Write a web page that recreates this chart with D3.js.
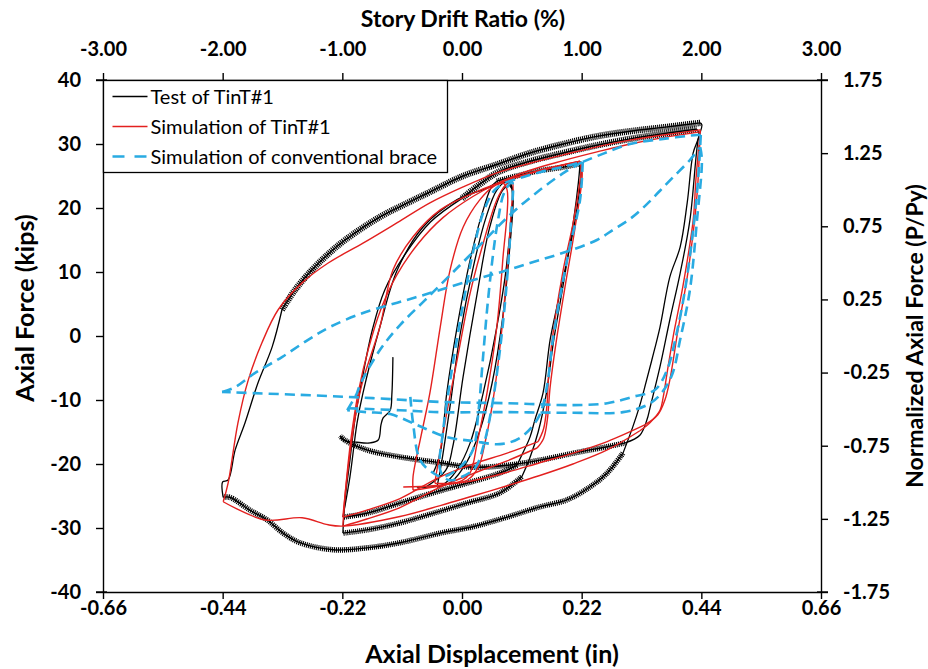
<!DOCTYPE html>
<html>
<head>
<meta charset="utf-8">
<script src="https://cdn.jsdelivr.net/npm/d3@7"></script>
<style>
  body { margin: 0; background: #fff; }
  text { font-family: Lato, "Open Sans", sans-serif; }
</style>
</head>
<body>
<div class="grafico"></div>
<script>
var width = 928, height = 669;
var plot = { left: 103, right: 821, top: 80, bottom: 592 };

// tick values
const dispTicks = [-0.66, -0.44, -0.22, 0, 0.22, 0.44, 0.66];
const driftTicks = [-3, -2, -1, 0, 1, 2, 3];
const forceTicks = [-40, -30, -20, -10, 0, 10, 20, 30, 40];
const normTicks = [-1.75, -1.25, -0.75, -0.25, 0.25, 0.75, 1.25, 1.75];

// ---- Test of TinT#1 (black), [displacement in, force kips] ----
// small cycles
const testSmall1 = [[-0.053,-21.4],[-0.040,-18.3],[-0.028,-8.9],[-0.009,1.4],[0.015,11.9],[0.039,19.7],[0.057,23.6],[0.072,24.0],[0.088,23.9],[0.083,11.9],[0.064,1.4],[0.039,-8.9],[0.015,-16.7],[-0.009,-20.9],[-0.035,-23.2],[-0.083,-23.6]];
const testSmall2 = [[-0.070,-23.8],[-0.030,-21.0],[-0.017,-17.3],[0.002,-6.4],[0.028,6.7],[0.051,17.0],[0.075,22.8],[0.090,23.6],[0.094,22.0],[0.088,14.0],[0.075,3.0],[0.055,-7.5],[0.032,-15.0],[0.010,-19.5],[-0.020,-22.8],[-0.046,-23.6]];
const testSmall3 = [[-0.046,-23.6],[-0.038,-20.0],[-0.022,-11.0],[-0.004,0.0],[0.020,10.5],[0.044,18.5],[0.064,22.8],[0.080,24.0],[0.092,23.0]];
// 0.22 in cycles
const test022Top = [[0.064,24.2],[0.100,25.0],[0.140,25.8],[0.180,26.3],[0.217,26.9]];
const test022Down1 = [[0.217,26.9],[0.219,25.9],[0.208,18.1],[0.180,6.7],[0.162,-0.6],[0.149,-8.9],[0.134,-13.1],[0.125,-15.8],[0.110,-18.6],[0.101,-20.2]];
const test022Comp1 = [[0.101,-20.2],[0.070,-21.4],[0.009,-23.0],[-0.053,-24.5],[-0.114,-26.1],[-0.175,-27.7],[-0.219,-28.3]];
const test022Up = [[-0.219,-28.3],[-0.206,-22.0],[-0.193,-13.6],[-0.182,-8.9],[-0.151,1.4],[-0.119,10.3],[-0.072,17.0],[-0.009,21.3],[0.051,23.3],[0.064,24.2]];
const test022Down2 = [[0.217,26.9],[0.214,24.0],[0.205,18.0],[0.186,8.0],[0.168,-1.0],[0.155,-9.0],[0.140,-15.0],[0.125,-19.0],[0.110,-22.0]];
const test022Comp2 = [[0.110,-22.0],[0.070,-24.5],[0.009,-26.1],[-0.053,-27.7],[-0.114,-29.2],[-0.175,-30.3],[-0.219,-30.8]];
// 0.44 in cycles
const test044Up1 = [[-0.219,-30.8],[-0.215,-25.6],[-0.206,-19.4],[-0.197,-13.1],[-0.184,-6.9],[-0.165,0.9],[-0.142,7.2],[-0.105,12.7],[-0.058,17.8],[0.0,21.5]];
const test044Top1 = [[0.0,21.5],[0.064,25.5],[0.125,27.3],[0.186,28.6],[0.248,29.8],[0.309,30.8],[0.370,31.6],[0.432,32.3]];
const test044Down1 = [[0.432,32.3],[0.436,31.5],[0.425,28.6],[0.414,20.8],[0.401,13.9],[0.382,9.2],[0.364,1.4],[0.349,-3.75],[0.336,-8.0],[0.327,-10.8],[0.314,-14.2],[0.296,-18.3]];
const test044Comp1 = [[0.296,-18.3],[0.267,-21.4],[0.235,-23.6],[0.193,-25.6],[0.143,-26.7],[0.083,-28.3],[0.020,-29.8],[-0.040,-30.8],[-0.114,-32.3],[-0.175,-33.1],[-0.237,-33.4],[-0.298,-32.3],[-0.329,-30.8],[-0.358,-28.75],[-0.390,-27.2],[-0.427,-25.2],[-0.439,-25.2]];
const test044Up2 = [[-0.439,-25.2],[-0.440,-22.8],[-0.430,-22.5],[-0.417,-17.8],[-0.399,-13.6],[-0.375,-7.3],[-0.349,-1.7],[-0.331,4.1]];
const test044Top2 = [[-0.331,4.1],[-0.307,7.2],[-0.276,10.3],[-0.246,12.8],[-0.215,15.0],[-0.151,18.6],[-0.100,20.8],[-0.059,22.5],[0.002,25.0],[0.064,26.8],[0.125,28.6],[0.186,30.0],[0.248,31.2],[0.309,32.0],[0.370,32.6],[0.438,33.3]];
const test044Down2 = [[0.438,33.3],[0.441,33.0],[0.434,30.6],[0.419,18.1],[0.401,9.8],[0.382,2.5],[0.364,-4.8],[0.346,-11.1],[0.340,-13.1],[0.327,-15.5],[0.300,-16.7]];
const testFinalComp = [[0.300,-16.7],[0.267,-17.3],[0.217,-18.1],[0.143,-19.4],[0.083,-20.2],[0.020,-20.5],[-0.040,-19.8],[-0.114,-18.9],[-0.175,-17.8],[-0.215,-16.3],[-0.224,-15.6]];
const testEnd = [[-0.224,-15.6],[-0.219,-16.25],[-0.193,-16.6],[-0.169,-16.7],[-0.154,-16.25],[-0.149,-13.9],[-0.145,-12.8],[-0.132,-11.6],[-0.129,-9.2],[-0.127,-3.3]];

// ---- Simulation of TinT#1 (red) ----
const simSmall1 = [[-0.090,-24.1],[-0.090,-22.0],[-0.075,-15.5],[-0.059,-8.9],[-0.040,1.4],[-0.022,10.3],[0.002,17.0],[0.033,21.3],[0.057,23.3],[0.075,23.9],[0.083,22.8],[0.075,11.9],[0.064,1.4],[0.046,-8.9],[0.028,-16.7],[0.015,-21.4],[0.0,-22.6],[-0.040,-23.4],[-0.090,-24.1]];
const simSmall2 = [[-0.050,-23.0],[-0.046,-20.9],[-0.028,-12.0],[-0.009,-3.75],[0.015,6.7],[0.039,14.5],[0.064,21.25],[0.080,23.6],[0.092,24.2],[0.090,19.0],[0.082,9.5],[0.072,0.0],[0.058,-9.5],[0.042,-16.8],[0.030,-20.5],[0.010,-22.5],[-0.020,-23.0],[-0.050,-23.0]];
const sim022Top = [[0.064,23.6],[0.100,24.8],[0.143,25.8],[0.217,27.3]];
const sim022Down1 = [[0.217,27.3],[0.219,26.0],[0.205,18.0],[0.186,10.3],[0.170,2.0],[0.160,-5.0],[0.156,-11.0],[0.150,-14.5],[0.140,-16.5]];
const sim022Comp1 = [[0.140,-16.5],[0.083,-18.3],[0.020,-20.0],[-0.040,-22.0],[-0.114,-25.4],[-0.175,-27.2],[-0.219,-28.3]];
const sim022Up = [[-0.219,-28.3],[-0.212,-22.5],[-0.195,-12.0],[-0.182,-6.9],[-0.151,1.4],[-0.127,10.3],[-0.090,15.5],[-0.040,19.7],[0.020,22.3],[0.064,23.8],[0.143,25.9],[0.217,27.3]];
const sim022Down2 = [[0.217,27.3],[0.221,25.5],[0.208,17.0],[0.190,8.0],[0.173,-1.0],[0.162,-8.0],[0.157,-13.0],[0.150,-16.0],[0.138,-17.5]];
const sim022Comp2 = [[0.138,-17.5],[0.083,-19.5],[0.020,-21.5],[-0.040,-23.6],[-0.114,-26.8],[-0.175,-28.6],[-0.219,-29.7]];
const sim044Up1 = [[-0.219,-29.7],[-0.214,-24.0],[-0.204,-16.0],[-0.190,-8.5],[-0.172,-2.0],[-0.150,4.0],[-0.120,9.5],[-0.080,14.5],[-0.035,18.5],[0.020,21.8],[0.064,23.8],[0.125,25.9],[0.186,27.4],[0.250,28.8],[0.309,30.0],[0.370,31.0],[0.438,31.9]];
const sim044Down1 = [[0.438,31.9],[0.430,24.4],[0.425,18.1],[0.406,7.7],[0.388,-0.2],[0.377,-5.8],[0.370,-9.5],[0.364,-11.6],[0.346,-13.5],[0.327,-14.8]];
const sim044Comp1 = [[0.327,-14.8],[0.267,-17.8],[0.204,-20.0],[0.143,-21.8],[0.083,-23.4],[0.020,-25.0],[-0.040,-26.5],[-0.114,-28.2],[-0.219,-29.7],[-0.246,-29.5],[-0.294,-28.4],[-0.362,-28.75],[-0.439,-25.9]];
const sim044Up2 = [[-0.439,-25.9],[-0.430,-23.0],[-0.412,-13.6],[-0.393,-6.9],[-0.368,-1.1],[-0.338,4.1],[-0.294,8.3],[-0.246,11.4],[-0.182,14.5],[-0.119,17.7],[-0.059,20.8],[0.002,23.3],[0.064,25.5],[0.125,27.0],[0.186,28.3],[0.250,29.6],[0.309,30.6],[0.370,31.4],[0.438,32.2]];
const sim044Down2 = [[0.438,32.2],[0.432,22.0],[0.416,10.3],[0.397,0.9],[0.382,-6.9],[0.373,-10.0],[0.360,-12.3],[0.336,-13.9]];
const simFinalComp = [[0.336,-13.9],[0.267,-16.5],[0.204,-18.3],[0.143,-19.8],[0.083,-21.3],[0.009,-22.8],[-0.053,-23.4],[-0.108,-23.6]];

// ---- Simulation of conventional brace (blue dashed) ----
const convSmall = [[-0.095,-9.5],[-0.090,-13.6],[-0.077,-19.4],[-0.053,-21.4],[-0.035,-22.0],[-0.004,-20.5],[0.020,-17.8],[0.030,-12.0],[0.038,-4.0],[0.046,4.0],[0.056,12.0],[0.066,18.0],[0.078,22.5],[0.092,24.0],[0.090,18.0],[0.082,8.0],[0.070,-2.0],[0.055,-11.0],[0.040,-17.0],[0.025,-20.5],[0.0,-22.0],[-0.025,-22.5],[-0.040,-21.0],[-0.035,-15.0],[-0.020,-6.0],[0.0,4.0],[0.020,13.0],[0.040,19.5],[0.060,22.8],[0.080,24.0]];
const conv022Top = [[0.080,24.0],[0.143,25.6],[0.189,26.5],[0.222,27.2]];
const conv022Down = [[0.222,27.2],[0.217,21.25],[0.199,14.2],[0.186,8.75],[0.167,-0.6],[0.158,-6.9],[0.149,-10.8],[0.138,-13.1],[0.107,-15.9],[0.070,-16.9],[0.020,-16.4],[-0.028,-15.8],[-0.083,-13.9],[-0.132,-12.2],[-0.175,-11.9],[-0.211,-11.6]];
const conv022Up = [[-0.211,-11.6],[-0.193,-8.9],[-0.188,-7.7],[-0.151,-2.2],[-0.114,1.7],[-0.068,5.6],[-0.022,9.5],[0.033,14.2],[0.088,18.9],[0.143,22.8],[0.189,25.6],[0.222,27.2]];
const conv044Top = [[0.222,27.2],[0.260,28.5],[0.309,30.0],[0.370,30.8],[0.432,31.4],[0.439,31.4]];
const conv044Down1 = [[0.439,31.4],[0.434,24.4],[0.425,16.6],[0.410,7.2],[0.392,-0.6],[0.377,-5.3],[0.355,-8.4],[0.314,-9.5],[0.267,-10.5],[0.204,-10.8],[0.083,-10.5],[-0.040,-10.3],[-0.164,-9.7],[-0.298,-9.2],[-0.441,-8.75]];
const conv044Up = [[-0.441,-8.75],[-0.417,-8.0],[-0.381,-5.8],[-0.331,-3.3],[-0.283,-0.6],[-0.243,1.4],[-0.182,3.6],[-0.119,5.2],[-0.059,6.7],[0.002,8.3],[0.064,9.8],[0.125,11.4],[0.186,13.0],[0.248,15.0],[0.278,16.6],[0.309,18.3],[0.340,20.6],[0.364,22.7],[0.388,24.8],[0.419,27.5],[0.438,29.5]];
const conv044Down2 = [[0.438,29.5],[0.441,27.5],[0.432,18.1],[0.419,7.2],[0.401,-0.6],[0.386,-6.1],[0.364,-9.2],[0.340,-10.8],[0.296,-11.9],[0.204,-12.0],[0.083,-11.9],[-0.040,-11.9],[-0.114,-11.6],[-0.219,-11.25]];

// grouping: jagged branches of the test record vs smooth ones
const testSmooth = [testSmall1, testSmall2, testSmall3, test022Down1, test022Up, test022Down2, test044Up1, test044Down1, test044Up2, test044Down2, testEnd];
const testJagged = [test022Top, test022Comp1, test022Comp2, test044Top1, test044Comp1, test044Top2, testFinalComp];
const simBranches = [simSmall1, simSmall2, sim022Top, sim022Down1, sim022Comp1, sim022Up, sim022Down2, sim022Comp2, sim044Up1, sim044Down1, sim044Comp1, sim044Up2, sim044Down2, simFinalComp];
const convBranches = [convSmall, conv022Top, conv022Down, conv022Up, conv044Top, conv044Down1, conv044Up, conv044Down2];

const legendItems = ["Test of TinT#1", "Simulation of TinT#1", "Simulation of conventional brace"];
const colBlack = "#000", colRed = "#e3201f", colBlue = "#29abe2";

let svg = d3.select(".grafico")
  .append("svg")
  .attr("width", width)
  .attr("height", height);

const x = d3.scaleLinear().domain([-0.66, 0.66]).range([plot.left, plot.right]);
const drift = d3.scaleLinear().domain([-3, 3]).range([plot.left, plot.right]);
const y = d3.scaleLinear().domain([-40, 40]).range([plot.bottom, plot.top]);
const yNorm = d3.scaleLinear().domain([-1.75, 1.75]).range([plot.bottom, plot.top]);

const line = d3.line()
  .x(d => x(d[0]))
  .y(d => y(d[1]))
  .curve(d3.curveCatmullRom.alpha(0.5));

// curves
let curves = svg.append("g").attr("fill", "none").attr("stroke-linejoin", "round");

// the test record is noisy: draw its jagged parts as a hatched band
curves.selectAll(".jagbg")
  .data(testJagged)
  .enter().append("path")
  .attr("d", line)
  .attr("stroke", colBlack)
  .attr("stroke-width", (d, i) => (i === 3 || i === 5) ? 6.5 : 5.5)
  .attr("stroke-dasharray", "1.1,0.9");

curves.selectAll(".jag")
  .data(testJagged)
  .enter().append("path")
  .attr("d", line)
  .attr("stroke", colBlack)
  .attr("stroke-width", 1.4);

curves.selectAll(".test")
  .data(testSmooth)
  .enter().append("path")
  .attr("d", line)
  .attr("stroke", colBlack)
  .attr("stroke-width", 1.3);

curves.selectAll(".sim")
  .data(simBranches)
  .enter().append("path")
  .attr("d", line)
  .attr("stroke", colRed)
  .attr("stroke-width", 1.4);

curves.selectAll(".conv")
  .data(convBranches)
  .enter().append("path")
  .attr("d", line)
  .attr("stroke", colBlue)
  .attr("stroke-width", 2.6)
  .attr("stroke-dasharray", "10,6");

// axes
function styleAxis(g) {
  g.attr("font-family", "Lato, sans-serif").attr("font-size", 20).attr("font-weight", "bold");
  g.select(".domain").attr("stroke-width", 1.4);
  g.selectAll(".tick line").attr("stroke-width", 1.4);
  g.selectAll("text").attr("fill", "#000");
}
const fmt2 = d => d.toFixed(2);

svg.append("g")
  .attr("transform", "translate(0," + plot.bottom + ")")
  .call(d3.axisBottom(x).tickValues(dispTicks).tickFormat(fmt2).tickSize(7).tickSizeOuter(0).tickPadding(2))
  .call(styleAxis);

svg.append("g")
  .attr("transform", "translate(0," + plot.top + ")")
  .call(d3.axisTop(drift).tickValues(driftTicks).tickFormat(fmt2).tickSize(7).tickSizeOuter(0).tickPadding(17))
  .call(styleAxis);

svg.append("g")
  .attr("transform", "translate(" + plot.left + ",0)")
  .call(d3.axisLeft(y).tickValues(forceTicks).tickFormat(d => String(d)).tickSize(7).tickSizeOuter(0).tickPadding(15))
  .call(styleAxis);

svg.append("g")
  .attr("transform", "translate(" + plot.right + ",0)")
  .call(d3.axisRight(yNorm).tickValues(normTicks).tickFormat(fmt2).tickSize(7).tickSizeOuter(0).tickPadding(15))
  .call(styleAxis);

// corner ticks cross the frame slightly
svg.append("g").attr("stroke", "#000").attr("stroke-width", 1.4)
  .selectAll("line")
  .data([[plot.left, plot.top], [plot.right, plot.top], [plot.left, plot.bottom], [plot.right, plot.bottom]])
  .enter().append("line")
  .attr("x1", d => d[0] - (d[0] === plot.left ? 7 : 4))
  .attr("x2", d => d[0] + (d[0] === plot.right ? 7 : 4))
  .attr("y1", d => d[1])
  .attr("y2", d => d[1]);

// titles
svg.append("text").attr("x", 463).attr("y", 27).attr("text-anchor", "middle")
  .attr("font-size", 23).attr("font-weight", "bold").text("Story Drift Ratio (%)");
svg.append("text").attr("x", 492).attr("y", 663).attr("text-anchor", "middle")
  .attr("font-size", 25).attr("font-weight", "bold").text("Axial Displacement (in)");
svg.append("text").attr("transform", "translate(34,308) rotate(-90)").attr("text-anchor", "middle")
  .attr("font-size", 25).attr("font-weight", "bold").text("Axial Force (kips)");
svg.append("text").attr("transform", "translate(923,336) rotate(-90)").attr("text-anchor", "middle")
  .attr("font-size", 23).attr("font-weight", "bold").text("Normalized Axial Force (P/Py)");

// legend
let legend = svg.append("g").attr("transform", "translate(" + (plot.left + 0.5) + "," + (plot.top + 0.5) + ")");
legend.append("rect")
  .attr("width", 344).attr("height", 92)
  .attr("fill", "#fff").attr("stroke", "#000").attr("stroke-width", 1.3);

let item = legend.selectAll(".legend")
  .data(legendItems)
  .enter().append("g")
  .attr("class", "legend")
  .attr("transform", (d, i) => "translate(0," + (16 + i * 30) + ")");

item.append("line")
  .attr("x1", 9).attr("x2", 44)
  .attr("stroke", (d, i) => [colBlack, colRed, colBlue][i])
  .attr("stroke-width", (d, i) => [1.3, 1.5, 2.6][i])
  .attr("stroke-dasharray", (d, i) => i === 2 ? "12,10" : null);

item.append("text")
  .attr("x", 47).attr("y", 7)
  .attr("font-size", 20)
  .text(d => d);
</script>
</body>
</html>
